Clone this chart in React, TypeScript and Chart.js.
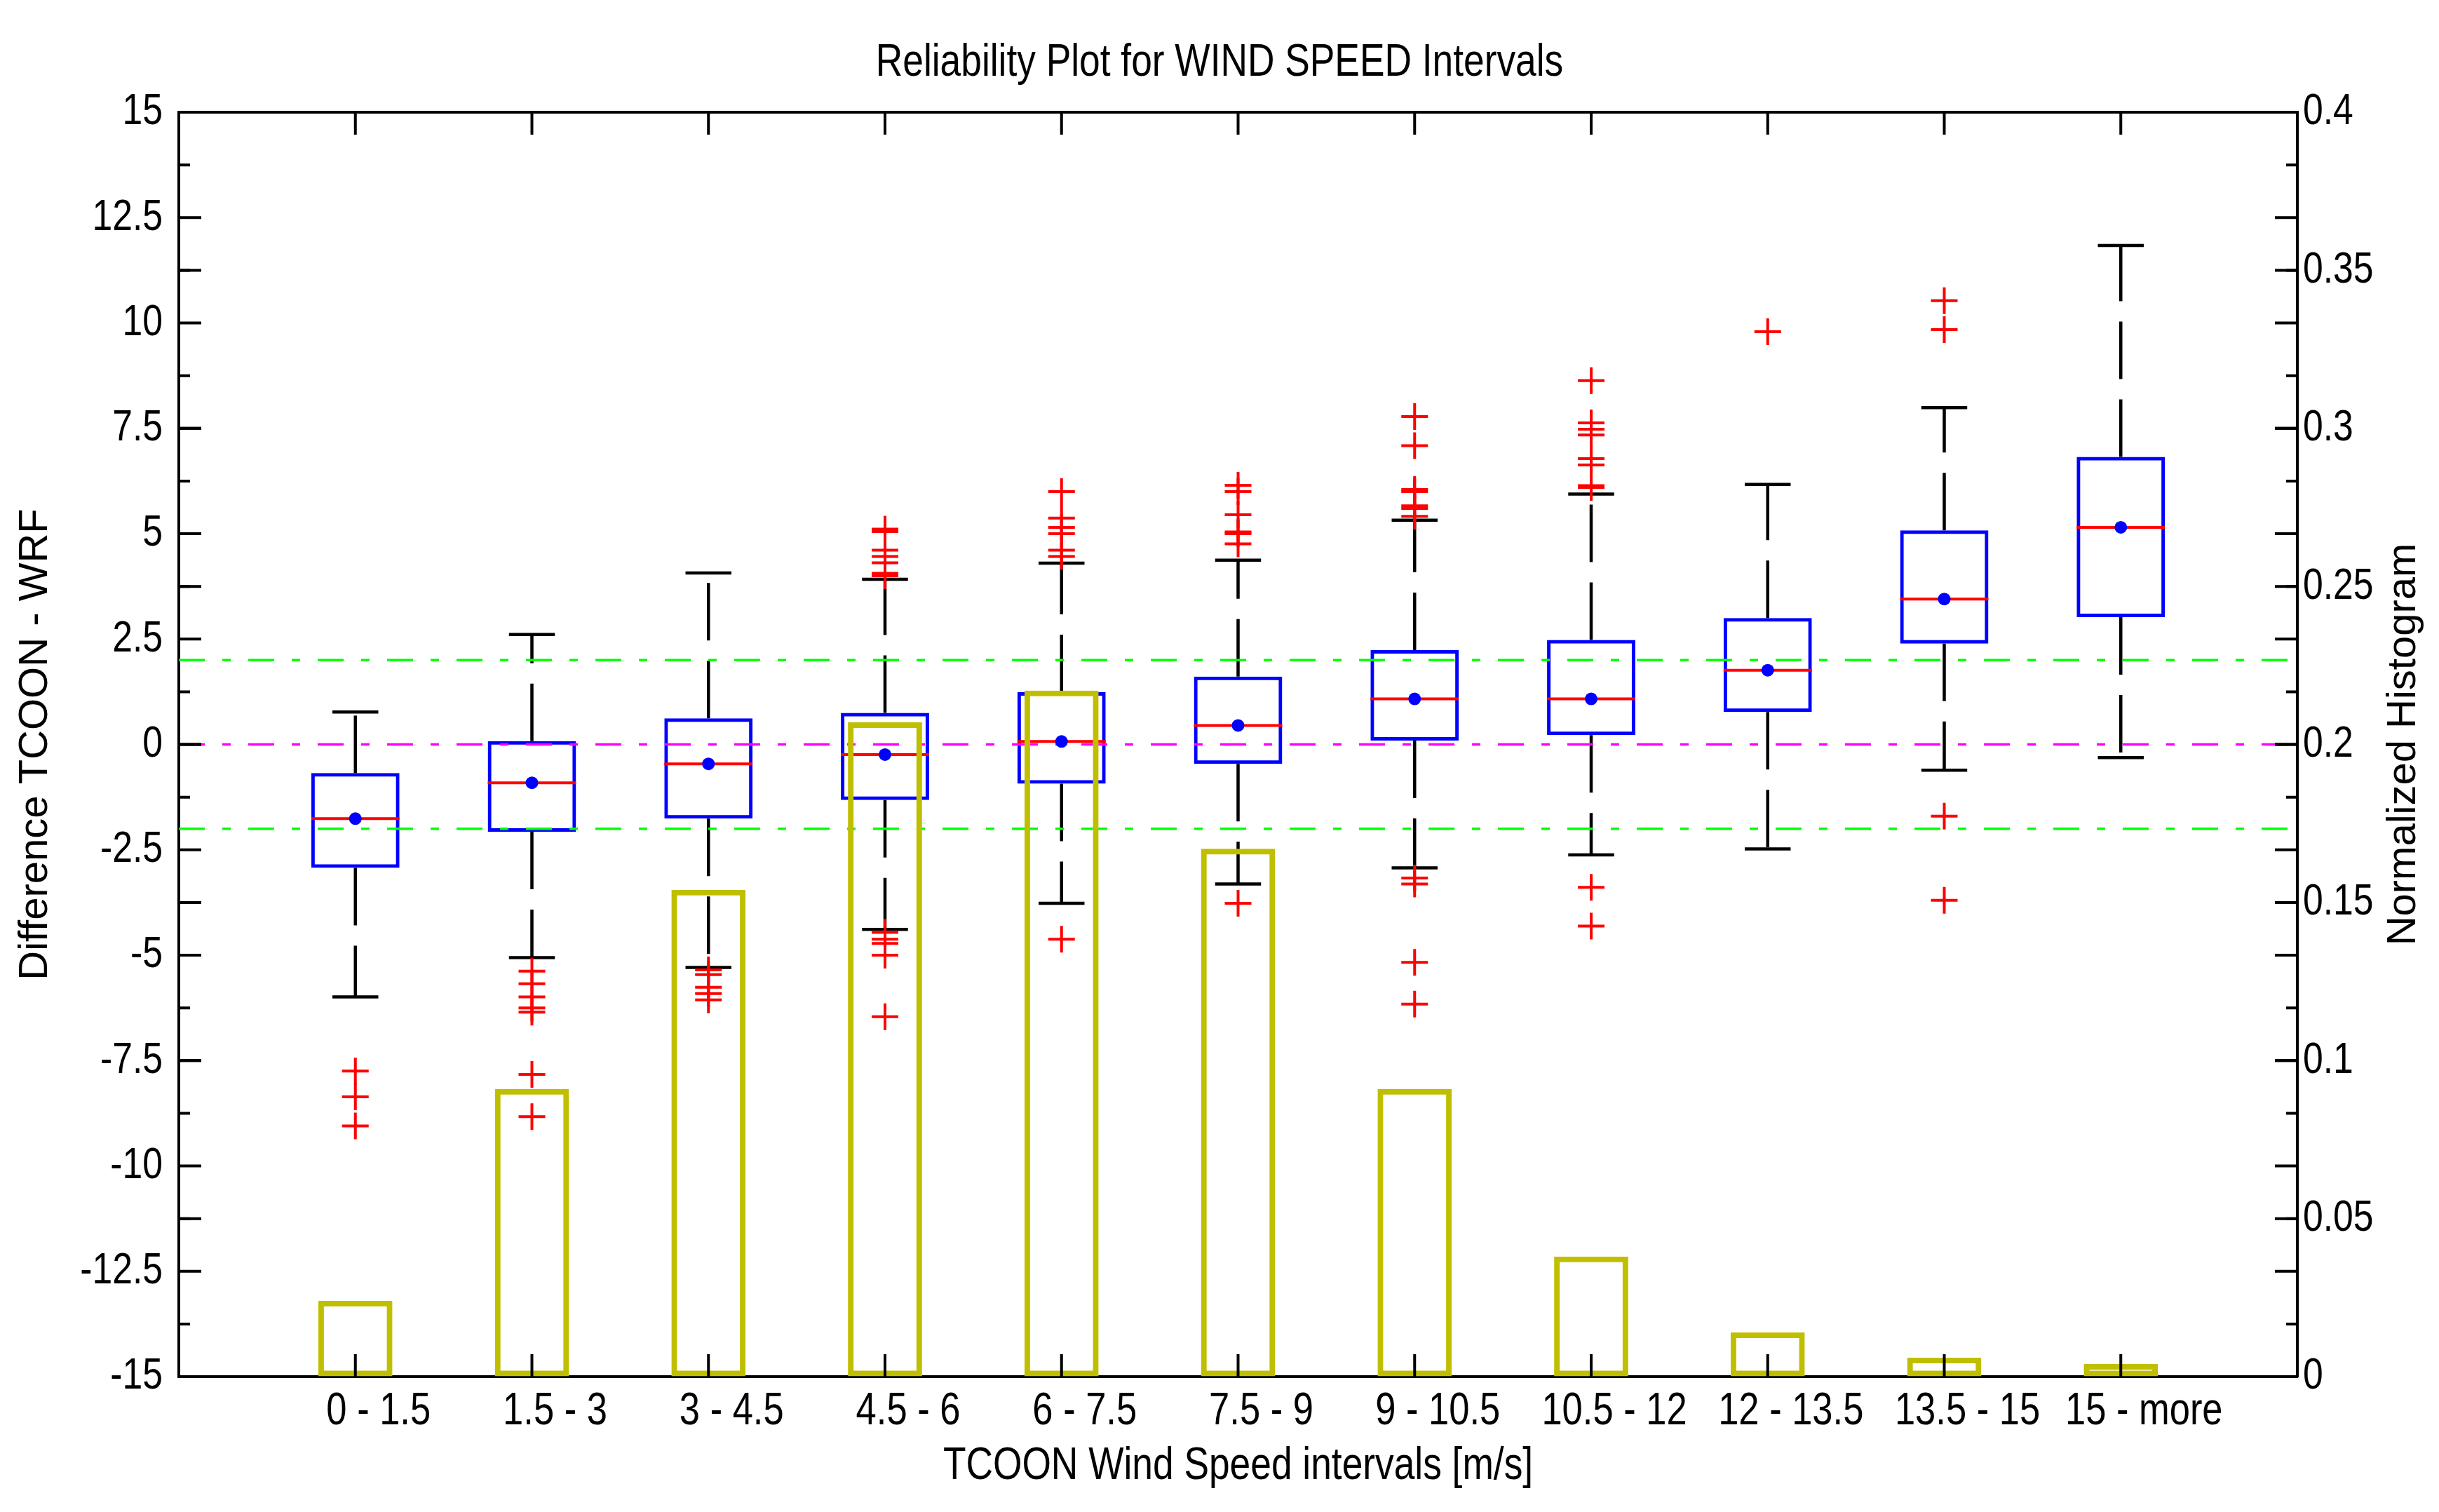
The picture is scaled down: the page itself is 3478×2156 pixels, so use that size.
import React, { useEffect, useRef } from 'react';
import { Chart, registerables } from 'chart.js';

Chart.register(...registerables);

// ---------------- data ----------------
const categories = ['0 - 1.5', '1.5 - 3', '3 - 4.5', '4.5 - 6', '6 - 7.5', '7.5 - 9', '9 - 10.5', '10.5 - 12', '12 - 13.5', '13.5 - 15', '15 - more'];

// normalized histogram (right axis)
const histogram = [0.024, 0.091, 0.154, 0.207, 0.217, 0.167, 0.091, 0.038, 0.014, 0.006, 0.004];

// box statistics (left axis)
const whiskerHigh = [0.77, 2.61, 4.07, 3.92, 4.3, 4.37, 5.32, 5.94, 6.17, 7.99, 11.84];
const q3 = [-0.68, 0.08, 0.62, 0.75, 1.24, 1.61, 2.24, 2.48, 3.0, 5.08, 6.82];
const medians = [-1.76, -0.91, -0.46, -0.24, 0.07, 0.45, 1.08, 1.08, 1.76, 3.45, 5.15];
const means = [-1.76, -0.91, -0.46, -0.24, 0.07, 0.45, 1.08, 1.08, 1.76, 3.45, 5.15];
const q1 = [-2.93, -2.07, -1.76, -1.32, -0.93, -0.46, 0.09, 0.22, 0.77, 2.39, 3.02];
const whiskerLow = [-5.99, -5.06, -5.29, -4.39, -3.77, -3.31, -2.93, -2.62, -2.48, -0.61, -0.31];

const outliers: number[][] = [
  [-7.75, -8.36, -9.05],
  [-5.38, -5.68, -5.99, -6.25, -6.35, -7.83, -8.83],
  [-5.35, -5.46, -5.76, -5.91, -6.06],
  [4.0, 4.06, 4.31, 4.46, 4.61, 5.05, 5.11, -4.46, -4.62, -4.72, -5.0, -6.46],
  [4.46, 4.61, 5.0, 5.15, 5.37, 6.0, -4.62],
  [4.76, 5.0, 5.04, 5.45, 6.0, 6.15, -3.77],
  [5.41, 5.6, 5.66, 6.0, 6.05, 7.09, 7.78, -3.17, -3.31, -5.17, -6.16],
  [6.1, 6.14, 6.63, 6.78, 7.34, 7.48, 7.63, 8.63, -3.39, -4.31],
  [9.79],
  [10.53, 9.84, -1.7, -3.7],
  [],
];

// reference lines
const refValues = [2, 0, -2];
const refColors = ['#00ff00', '#ff00ff', '#00ff00'];

// axis ranges
const leftRange = [-15, 15];
const leftStep = 2.5;
const rightRange = [0, 0.4];
const rightStep = 0.05;

// texts
const TITLE = 'Reliability Plot for WIND SPEED Intervals';
const X_TITLE = 'TCOON Wind Speed intervals [m/s]';
const Y_TITLE = 'Difference TCOON - WRF';
const Y2_TITLE = 'Normalized Histogram';

// ---------------- styles ----------------
const W = 3478;
const H = 2156;
const FONT = "'Liberation Sans', Arial, Helvetica, sans-serif";
const CONDENSE = 0.82; // horizontal squeeze for upright text (narrow Helvetica look)
const BLUE = '#0000ff';
const RED = '#ff0000';
const YELLOW = '#bfbf00';
const BOX_HALF = 0.25;
const CAP_HALF = 0.13;
const LONG_TICK = 32;
const SHORT_TICK = 16;

// upright text is drawn horizontally condensed; rotated text is left as is
const condensePlugin = {
  id: 'condenseText',
  beforeInit(chart: any) {
    const ctx = chart.ctx as any;
    if (ctx.__condensed) return;
    ctx.__condensed = true;
    const orig = ctx.fillText.bind(ctx);
    ctx.fillText = (text: string, x: number, y: number, maxWidth?: number) => {
      const m = ctx.getTransform();
      if (Math.abs(m.b) < 1e-6 && Math.abs(m.c) < 1e-6) {
        ctx.save();
        ctx.translate(x, y);
        ctx.scale(CONDENSE, 1);
        if (maxWidth === undefined) orig(text, 0, 0);
        else orig(text, 0, 0, maxWidth / CONDENSE);
        ctx.restore();
      } else if (maxWidth === undefined) {
        orig(text, x, y);
      } else {
        orig(text, x, y, maxWidth);
      }
    };
  },
};

const boxPlugin = {
  id: 'boxParts',
  afterDatasetDraw(chart: any, args: any) {
    const ds = chart.data.datasets[args.index];
    if (!ds || ds.label !== 'boxes') return;
    const xs = chart.scales.x;
    const ys = chart.scales.y;
    const ctx = chart.ctx as CanvasRenderingContext2D;
    ctx.save();
    categories.forEach((_, i) => {
      const c = i + 1;
      const px = xs.getPixelForValue(c);
      const half = xs.getPixelForValue(c + BOX_HALF) - px;
      const capHalf = xs.getPixelForValue(c + CAP_HALF) - px;
      ctx.strokeStyle = '#000';
      ctx.lineWidth = 4.5;
      ctx.lineCap = 'butt';
      ctx.setLineDash([82, 29]);
      ctx.beginPath();
      ctx.moveTo(px, ys.getPixelForValue(q3[i]));
      ctx.lineTo(px, ys.getPixelForValue(whiskerHigh[i]));
      ctx.stroke();
      ctx.beginPath();
      ctx.moveTo(px, ys.getPixelForValue(q1[i]));
      ctx.lineTo(px, ys.getPixelForValue(whiskerLow[i]));
      ctx.stroke();
      ctx.setLineDash([]);
      [whiskerHigh[i], whiskerLow[i]].forEach((v) => {
        const py = ys.getPixelForValue(v);
        ctx.beginPath();
        ctx.moveTo(px - capHalf, py);
        ctx.lineTo(px + capHalf, py);
        ctx.stroke();
      });
      ctx.strokeStyle = RED;
      ctx.lineWidth = 4;
      const pm = ys.getPixelForValue(medians[i]);
      ctx.beginPath();
      ctx.moveTo(px - half, pm);
      ctx.lineTo(px + half, pm);
      ctx.stroke();
    });
    ctx.restore();
  },
  afterDraw(chart: any) {
    const ctx = chart.ctx as CanvasRenderingContext2D;
    const { left, right, top, bottom } = chart.chartArea;
    const xs = chart.scales.x;
    const ys = chart.scales.y;
    const y2 = chart.scales.y2;
    ctx.save();
    ctx.strokeStyle = '#000';
    ctx.lineWidth = 4;
    ctx.beginPath();
    ctx.moveTo(left - 2, top);
    ctx.lineTo(right + 2, top);
    ctx.stroke();

    const yVals: number[] = ys.ticks.map((t: any) => t.value);
    const longY: number[] = [
      ...yVals.map((v) => ys.getPixelForValue(v)),
      ...y2.ticks.map((t: any) => y2.getPixelForValue(t.value)),
    ];
    const shortY: number[] = yVals.slice(0, -1).map((v, k) => ys.getPixelForValue((v + yVals[k + 1]) / 2));
    const hTick = (py: number, len: number) => {
      ctx.beginPath();
      ctx.moveTo(left, py);
      ctx.lineTo(left + len, py);
      ctx.moveTo(right, py);
      ctx.lineTo(right - len, py);
      ctx.stroke();
    };
    shortY.forEach((py) => hTick(py, SHORT_TICK));
    longY.forEach((py) => hTick(py, LONG_TICK));
    xs.ticks.forEach((t: any) => {
      const px = xs.getPixelForValue(t.value);
      ctx.beginPath();
      ctx.moveTo(px, bottom);
      ctx.lineTo(px, bottom - LONG_TICK);
      ctx.moveTo(px, top);
      ctx.lineTo(px, top + LONG_TICK);
      ctx.stroke();
    });

    // right axis title, reading bottom to top
    ctx.translate(y2.right - 50, (top + bottom) / 2);
    ctx.rotate(-Math.PI / 2);
    ctx.font = `58px ${FONT}`;
    ctx.fillStyle = '#000';
    ctx.textAlign = 'center';
    ctx.textBaseline = 'middle';
    ctx.fillText(Y2_TITLE, 0, 0);
    ctx.restore();
  },
};

export default function App() {
  const ref = useRef<HTMLCanvasElement>(null);

  useEffect(() => {
    document.body.style.margin = '0';
    const canvas = ref.current!;
    const datasets: any[] = [
      {
        type: 'bar',
        label: 'histogram',
        yAxisID: 'y2',
        data: histogram.map((v, i) => ({ x: i + 1, y: v })),
        backgroundColor: 'rgba(0,0,0,0)',
        borderColor: YELLOW,
        borderWidth: 8,
        borderSkipped: false,
        grouped: false,
        categoryPercentage: 1,
        barPercentage: 0.42,
        order: 2,
      },
      {
        type: 'bar',
        label: 'boxes',
        yAxisID: 'y',
        data: q1.map((v, i) => ({ x: i + 1, y: [v, q3[i]] })),
        backgroundColor: 'rgba(0,0,0,0)',
        borderColor: BLUE,
        borderWidth: 5,
        borderSkipped: false,
        grouped: false,
        categoryPercentage: 1,
        barPercentage: 0.5,
        order: 4,
      },
      ...refValues.map((v, k) => ({
        type: 'line',
        label: 'ref' + k,
        yAxisID: 'y',
        data: [
          { x: 0, y: v },
          { x: 12, y: v },
        ],
        borderColor: refColors[k],
        borderWidth: 3.5,
        borderDash: [37, 25, 12, 25],
        pointRadius: 0,
        fill: false,
        order: 3,
      })),
      {
        type: 'scatter',
        label: 'outliers',
        yAxisID: 'y',
        data: outliers.flatMap((arr, i) => arr.map((v) => ({ x: i + 1, y: v }))),
        pointStyle: 'cross',
        pointRadius: 19,
        borderColor: RED,
        backgroundColor: RED,
        borderWidth: 4,
        order: 1,
      },
      {
        type: 'scatter',
        label: 'means',
        yAxisID: 'y',
        data: means.map((v, i) => ({ x: i + 1, y: v })),
        pointStyle: 'circle',
        pointRadius: 9,
        backgroundColor: BLUE,
        borderColor: BLUE,
        borderWidth: 0,
        order: 0,
      },
    ];

    const chart = new Chart(canvas, {
      type: 'bar',
      data: { datasets },
      plugins: [condensePlugin, boxPlugin],
      options: {
        responsive: false,
        maintainAspectRatio: false,
        devicePixelRatio: 1,
        animation: false,
        layout: { padding: 0 },
        plugins: {
          legend: { display: false },
          tooltip: { enabled: false },
          title: {
            display: true,
            text: TITLE,
            color: '#000',
            font: { family: FONT, size: 65, weight: 'normal' },
            padding: { top: 51, bottom: 31 },
          },
        },
        scales: {
          x: {
            type: 'linear',
            min: 0,
            max: 12,
            offset: false,
            afterBuildTicks: (s: any) => {
              s.ticks = categories.map((_, i) => ({ value: i + 1 }));
            },
            afterFit: (s: any) => {
              s.height = 193;
            },
            grid: { offset: false, drawOnChartArea: false, drawTicks: false },
            border: { display: true, color: '#000', width: 4 },
            ticks: {
              autoSkip: false,
              maxRotation: 0,
              minRotation: 0,
              padding: 12,
              labelOffset: 33,
              color: '#000',
              font: { family: FONT, size: 64 },
              callback: (v: any) => categories[Math.round(Number(v)) - 1] ?? '',
            },
            title: {
              display: true,
              text: X_TITLE,
              color: '#000',
              font: { family: FONT, size: 65 },
              padding: { top: 0, bottom: 26 },
            },
          },
          y: {
            type: 'linear',
            position: 'left',
            min: leftRange[0],
            max: leftRange[1],
            afterFit: (s: any) => {
              s.width = 255;
            },
            grid: { drawOnChartArea: false, drawTicks: false },
            border: { display: true, color: '#000', width: 4 },
            ticks: {
              stepSize: leftStep,
              padding: 23,
              color: '#000',
              font: { family: FONT, size: 63 },
            },
            title: {
              display: true,
              text: Y_TITLE,
              color: '#000',
              font: { family: FONT, size: 58 },
              padding: { top: 16, bottom: 0 },
            },
          },
          y2: {
            type: 'linear',
            position: 'right',
            min: rightRange[0],
            max: rightRange[1],
            afterFit: (s: any) => {
              s.width = 202;
            },
            grid: { drawOnChartArea: false, drawTicks: false },
            border: { display: true, color: '#000', width: 4 },
            ticks: {
              stepSize: rightStep,
              padding: 8,
              color: '#000',
              font: { family: FONT, size: 63 },
              callback: (v: any) => String(Number(Number(v).toFixed(3))),
            },
          },
        },
      } as any,
    });
    return () => chart.destroy();
  }, []);

  return (
    <div style={{ width: W, height: H, background: '#fff' }}>
      <canvas ref={ref} width={W} height={H} style={{ display: 'block', width: W, height: H }} />
    </div>
  );
}
